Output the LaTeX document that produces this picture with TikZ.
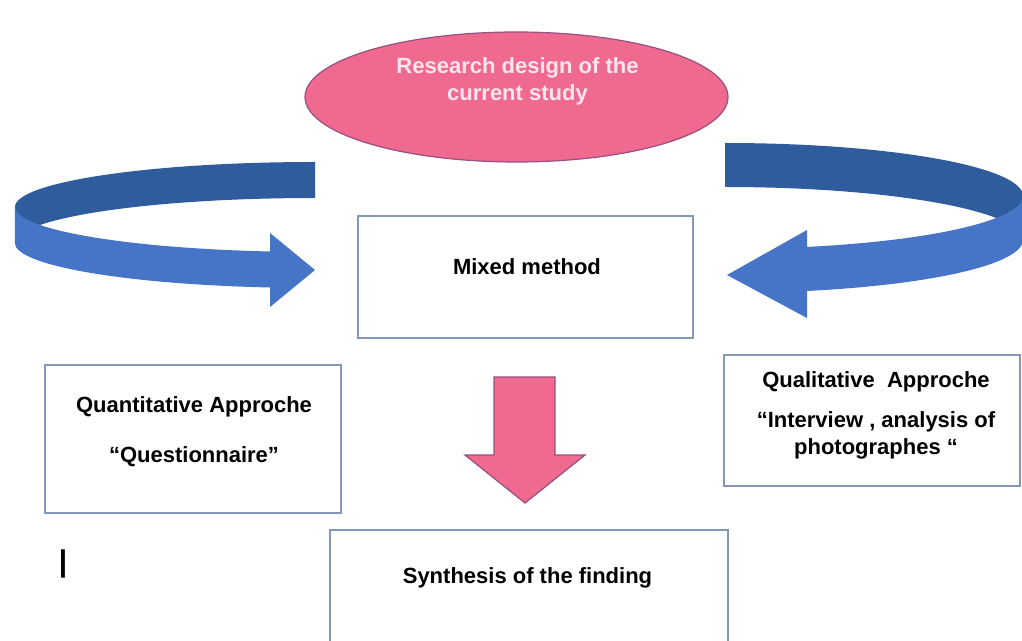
\documentclass[tikz,border=0pt]{standalone}
\usepackage{fontspec}
\setmainfont{Liberation Sans}
\usetikzlibrary{shapes.geometric}

\definecolor{rosefill}{RGB}{240,106,143}
\definecolor{roseline}{RGB}{150,80,130}
\definecolor{rosetext}{RGB}{253,230,238}
\definecolor{blueback}{RGB}{47,92,156}
\definecolor{bluefront}{RGB}{70,116,198}
\definecolor{boxline}{RGB}{132,151,181}

\begin{document}
\begin{tikzpicture}[x=0.5pt,y=-0.5pt]
\useasboundingbox (0,0) rectangle (1022,641);
\fill[white] (0,0) rectangle (1022,641);

\begin{scope}[every node/.style={rectangle,draw=boxline,line width=0.8pt,inner sep=0pt}]
    \node[minimum width=167.5pt,minimum height=61pt] (mixed) at (525.5,277) {};
    \node[minimum width=148pt,minimum height=74pt] (quanti) at (193,439) {};
    \node[minimum width=148pt,minimum height=65.5pt] (quali) at (872,420.5) {};
    \node[minimum width=199pt,minimum height=65pt] (synth) at (529,595) {};
\end{scope}

\node[ellipse,draw=roseline,fill=rosefill,line width=0.6pt,minimum width=211.5pt,minimum height=65pt,inner sep=0pt] (design) at (516.5,97) {};

\begin{scope}[every node/.style={inner sep=0pt,align=center,font=\bfseries\fontsize{11}{13.5}\selectfont}]
    \node[anchor=north,text=rosetext] (designtxt) at (517.5,57) {Research design of the\\current study};
    \node[anchor=base] (mixedtxt) at (527,275) {Mixed method};
    \node[anchor=north] (quantitxt) at (194,396) {Quantitative Approche\\[11.5pt]“Questionnaire”};
    \node[anchor=north] (qualitxt) at (876,371) {Qualitative~~Approche\\[6.5pt]“Interview , analysis of\\photographes “};
    \node[anchor=base] (synthtxt) at (527.5,583) {Synthesis of the finding};
\end{scope}
\node[anchor=base,inner sep=0pt,font=\bfseries\fontsize{15}{18}\selectfont] (bar) at (63,571) {|};

% down arrow
\draw[roseline,fill=rosefill,line width=0.6pt] (494,377) -- (555,377) -- (555,455) -- (585,455) -- (525,503) -- (465,455) -- (494,455) -- cycle;

% left ribbon
\fill[blueback] (315,162) arc[start angle=-90,end angle=-180,x radius=300,y radius=45] -- (15,243) arc[start angle=180,end angle=270,x radius=300,y radius=45] -- cycle;
\fill[bluefront] (15,207) arc[start angle=180,end angle=98.6,x radius=300,y radius=45] -- (270,233) -- (315,270) -- (270,307) -- (270,287.5) arc[start angle=98.6,end angle=180,x radius=300,y radius=45] -- cycle;

% right ribbon
\fill[blueback] (725,143) arc[start angle=-90,end angle=0,x radius=298,y radius=53] -- (1023,240) arc[start angle=0,end angle=-90,x radius=298,y radius=53] -- cycle;
\fill[bluefront] (1023,196) arc[start angle=0,end angle=74,x radius=298,y radius=53] -- (807,230) -- (727,275) -- (807,318) -- (807,291) arc[start angle=74,end angle=0,x radius=298,y radius=53] -- cycle;

\end{tikzpicture}
\end{document}
